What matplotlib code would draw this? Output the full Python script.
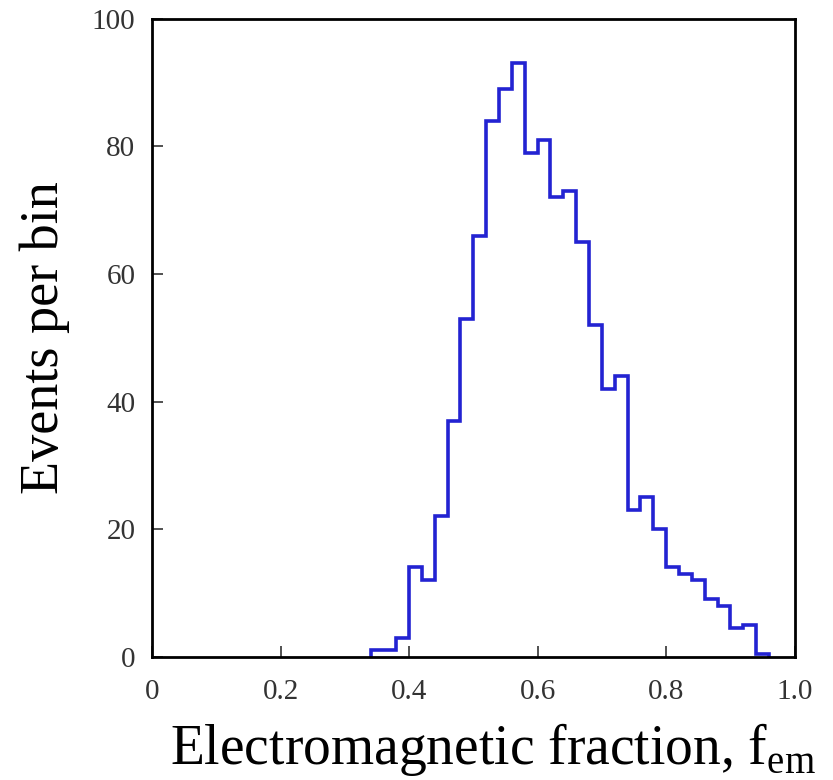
import matplotlib
matplotlib.use("Agg")
import matplotlib.pyplot as plt
import numpy as np

# bin edges (width 0.02) and events per bin
edges = np.round(np.arange(0.34, 0.96 + 0.001, 0.02), 2)
counts = [1, 1, 3, 14, 12, 22, 37, 53, 66, 84, 89, 93, 79, 81, 72, 73,
          65, 52, 42, 44, 23, 25, 20, 14, 13, 12, 9, 8, 4.5, 5, 0.5]

xticks = [0, 0.2, 0.4, 0.6, 0.8, 1.0]
xticklabels = ["0", "0.2", "0.4", "0.6", "0.8", "1.0"]
yticks = [0, 20, 40, 60, 80, 100]

plt.rcParams['font.family'] = ['Liberation Serif', 'DejaVu Serif']
plt.rcParams['mathtext.fontset'] = 'custom'
plt.rcParams['mathtext.rm'] = 'Liberation Serif'

fig = plt.figure(figsize=(8.33, 7.8), dpi=100)
ax = fig.add_axes([0.1825, 0.158, 0.7715, 0.818])

ax.stairs(counts, edges, color='#2323d2', linewidth=2.6, baseline=0)

ax.set_xlim(0, 1.0)
ax.set_ylim(0, 100)
ax.set_xticks(xticks)
ax.set_xticklabels(xticklabels)
ax.set_yticks(yticks)
ax.tick_params(direction='in', length=8, width=1.2, labelsize=21, colors='#333333')
ax.tick_params(axis='x', pad=16)
ax.tick_params(axis='y', pad=12)
for s in ax.spines.values():
    s.set_linewidth(2)

ax.set_xlabel(r"Electromagnetic fraction, f$_{\rm em}$", fontsize=40)
ax.xaxis.set_label_coords(0.53, -0.1)
ax.set_ylabel("Events per bin", fontsize=39, labelpad=16)

fig.savefig("out.png", dpi=100)
